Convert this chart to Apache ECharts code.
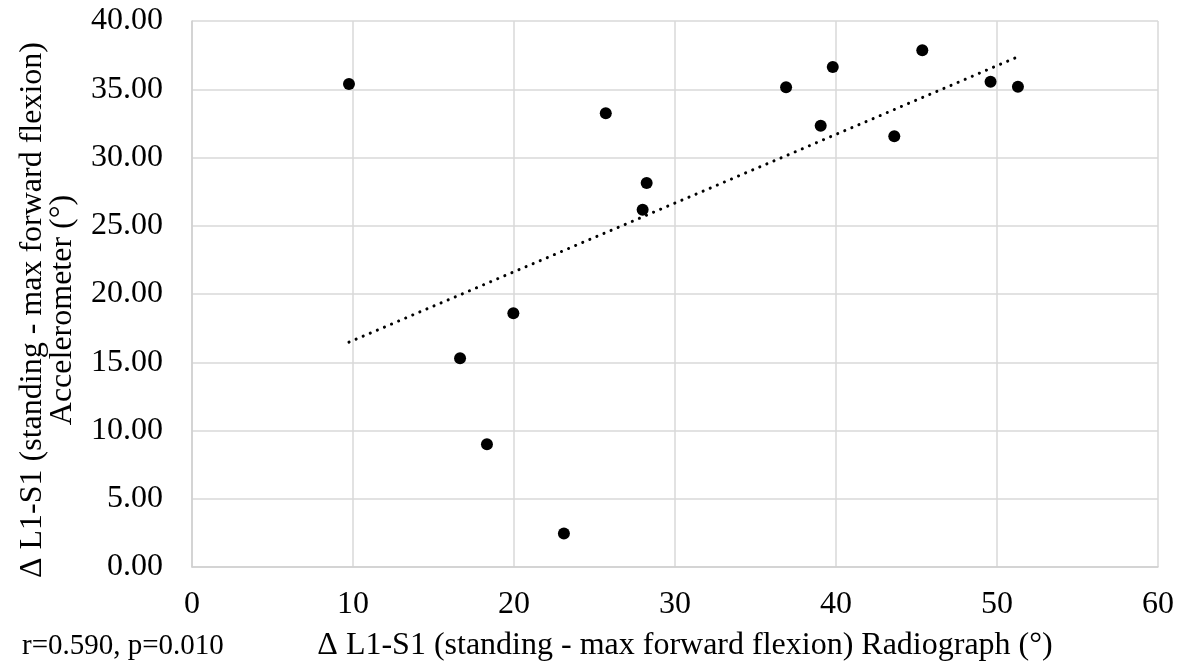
<!DOCTYPE html>
<html lang="en">
<head>
    <meta charset="UTF-8">
    <title>L1-S1 accelerometer vs radiograph</title>
    <style>
        html, body { margin: 0; padding: 0; background: #fff; }
        #main { width: 1183px; height: 668px; }
    </style>
</head>
<body>
    <div id="main"></div>
<script src="https://cdn.jsdelivr.net/npm/echarts@6/dist/echarts.min.js"></script>
<script type="text/javascript">
// radiograph delta (x) and accelerometer delta (y)
var radiograph = [9.75, 25.7, 28.24, 27.99, 36.9, 39.8, 39.05, 45.36, 43.62, 49.6, 51.3, 19.96, 16.65, 18.32, 23.1];
var accelerometer = [35.38, 33.24, 28.13, 26.18, 35.14, 36.63, 32.33, 37.85, 31.55, 35.55, 35.18, 18.59, 15.3, 9.0, 2.46];
// trend line ends
var trendX = [9.75, 51.3];
var trendY = [16.47, 37.38];
var statsText = 'r=0.590, p=0.010';

var font = '"Liberation Serif", "Times New Roman", serif';
var gridColor = '#d9d9d9';

var points = radiograph.map(function (x, i) { return [x, accelerometer[i]]; });
var trend = trendX.map(function (x, i) { return [x, trendY[i]]; });

var myChart = echarts.init(document.getElementById('main'));
var option = {
    backgroundColor: '#ffffff',
    animation: false,
    grid: { left: 192, right: 25, top: 21, bottom: 101 },
    xAxis: {
        type: 'value',
        min: 0, max: 60, interval: 10,
        name: 'Δ L1-S1 (standing - max forward flexion) Radiograph (°)',
        nameLocation: 'middle',
        nameGap: 63,
        nameTextStyle: { fontFamily: font, fontSize: 32, color: '#000', padding: [0, 0, 0, 20] },
        axisLine: { show: true, lineStyle: { color: '#cfcfcf', width: 1.5 } },
        axisTick: { show: false },
        axisLabel: { fontFamily: font, fontSize: 32, color: '#000', margin: 22 },
        splitLine: { show: true, lineStyle: { color: gridColor, width: 1.5 } }
    },
    yAxis: {
        type: 'value',
        min: 0, max: 40, interval: 5,
        name: 'Δ L1-S1 (standing - max forward flexion)\nAccelerometer (°)',
        nameLocation: 'middle',
        nameRotate: 90,
        nameGap: 114,
        nameTextStyle: { fontFamily: font, fontSize: 32, color: '#000', lineHeight: 30, padding: [0, 32, 0, 0] },
        axisLine: { show: true, lineStyle: { color: '#cfcfcf', width: 1.5 } },
        axisTick: { show: false },
        axisLabel: {
            fontFamily: font, fontSize: 32, color: '#000', margin: 29,
            formatter: function (v) { return v.toFixed(2); }
        },
        splitLine: { show: true, lineStyle: { color: gridColor, width: 1.5 } }
    },
    graphic: [{
        type: 'text',
        left: 22,
        top: 632,
        style: { text: statsText, font: '29px ' + font, fill: '#000' }
    }],
    series: [{
        type: 'line',
        data: trend,
        symbol: 'none',
        silent: true,
        lineStyle: { color: '#000', width: 3, type: [0.1, 7.6], cap: 'round' },
        z: 1
    }, {
        type: 'scatter',
        data: points,
        symbol: 'circle',
        symbolSize: 12,
        itemStyle: { color: '#000', opacity: 1 },
        z: 2
    }]
};
myChart.setOption(option);
</script>
</body>
</html>
